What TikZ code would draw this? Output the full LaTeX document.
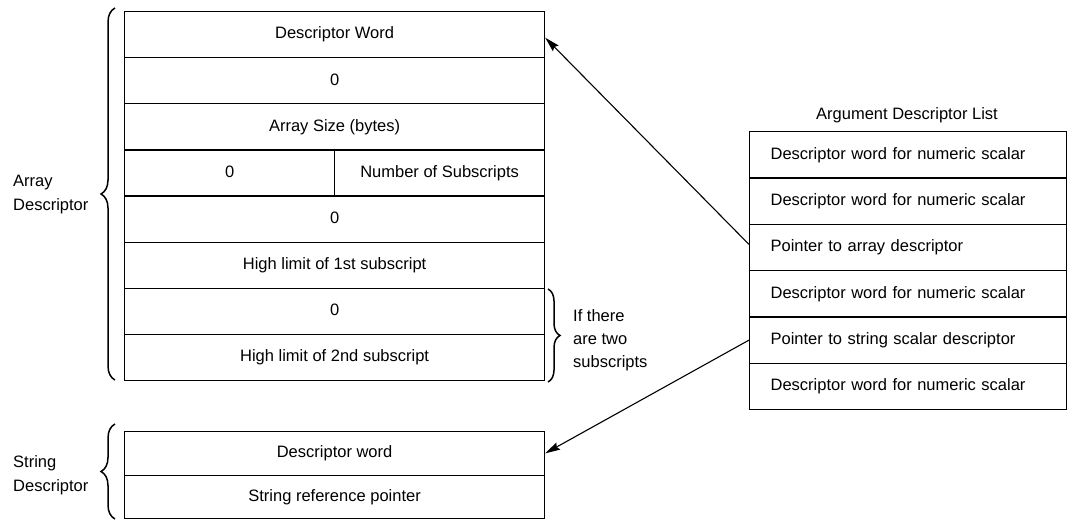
\documentclass[tikz,border=0pt]{standalone}
\usepackage{fontspec}
\setmainfont{Liberation Sans}
\usetikzlibrary{decorations.pathreplacing,arrows.meta}
\begin{document}
\begin{tikzpicture}[x=1pt,y=-1pt,
  txt/.style={font=\fontsize{16.5}{20}\selectfont},
  cell/.style={txt,draw,line width=1.2pt,inner sep=0pt,anchor=north west,
    minimum height=46.125pt,text height=12pt,text depth=3.5pt},
  scell/.style={cell,minimum height=43.5pt,minimum width=420pt},
  lcell/.style={txt,draw,line width=1.2pt,anchor=north west,inner ysep=0pt,
    inner xsep=21pt,text width=275pt,align=left,minimum height=46.333pt,
    text height=12pt,text depth=3.5pt},
  lab/.style={txt,inner sep=0pt,align=left},
  conn/.style={line width=1.1pt,-{Stealth[length=15pt,width=8pt,inset=2pt]}},
  br/.style={line width=1.5pt,decorate,decoration={brace,amplitude=14pt}},
  br2/.style={line width=1.5pt,decorate,decoration={brace,amplitude=12pt}}]
\path[use as bounding box,fill=white] (0,0) rectangle (1082,521);
% Array descriptor
\node[cell,minimum width=420pt] (a1) at (124,11) {Descriptor Word};
\node[cell,minimum width=420pt] (a2) at (124,57.125) {0};
\node[cell,minimum width=420pt] (a3) at (124,103.25) {Array Size (bytes)};
\node[cell,minimum width=210pt] (a4l) at (124,149.375) {0};
\node[cell,minimum width=210pt] (a4r) at (334,149.375) {Number of Subscripts};
\node[cell,minimum width=420pt] (a5) at (124,195.5) {0};
\node[cell,minimum width=420pt] (a6) at (124,241.625) {High limit of 1st subscript};
\node[cell,minimum width=420pt] (a7) at (124,287.75) {0};
\node[cell,minimum width=420pt] (a8) at (124,333.875) {High limit of 2nd subscript};
% String descriptor
\node[scell] (s1) at (124,431) {Descriptor word};
\node[scell] (s2) at (124,474.5) {String reference pointer};
% Argument descriptor list
\node[lab] (title) at (907,115) {Argument Descriptor List};
\node[lcell] (l1) at (749,131) {Descriptor word for numeric scalar};
\node[lcell] (l2) at (749,177.333) {Descriptor word for numeric scalar};
\node[lcell] (l3) at (749,223.667) {Pointer to array descriptor};
\node[lcell] (l4) at (749,270) {Descriptor word for numeric scalar};
\node[lcell] (l5) at (749,316.333) {Pointer to string scalar descriptor};
\node[lcell] (l6) at (749,362.667) {Descriptor word for numeric scalar};
% labels
\node[lab,anchor=west,font=\fontsize{16.5}{24}\selectfont] (arrlab) at (13,195) {Array\\Descriptor};
\node[lab,anchor=west,font=\fontsize{16.5}{24}\selectfont] (strlab) at (13,475) {String\\Descriptor};
\node[lab,anchor=west,font=\fontsize{16.5}{23}\selectfont] (iflab) at (573,340) {If there\\are two\\subscripts};
% braces
\draw[br] (115,380) -- (115,8);
\draw[br] (115,519) -- (115,424);
\draw[br2] (548,289) -- (548,382);
% connectors
\draw[conn] ([yshift=3pt]l3.west) -- ([yshift=-3pt]a1.east);
\draw[conn] (l5.west) -- (s1.east);
\end{tikzpicture}
\end{document}
